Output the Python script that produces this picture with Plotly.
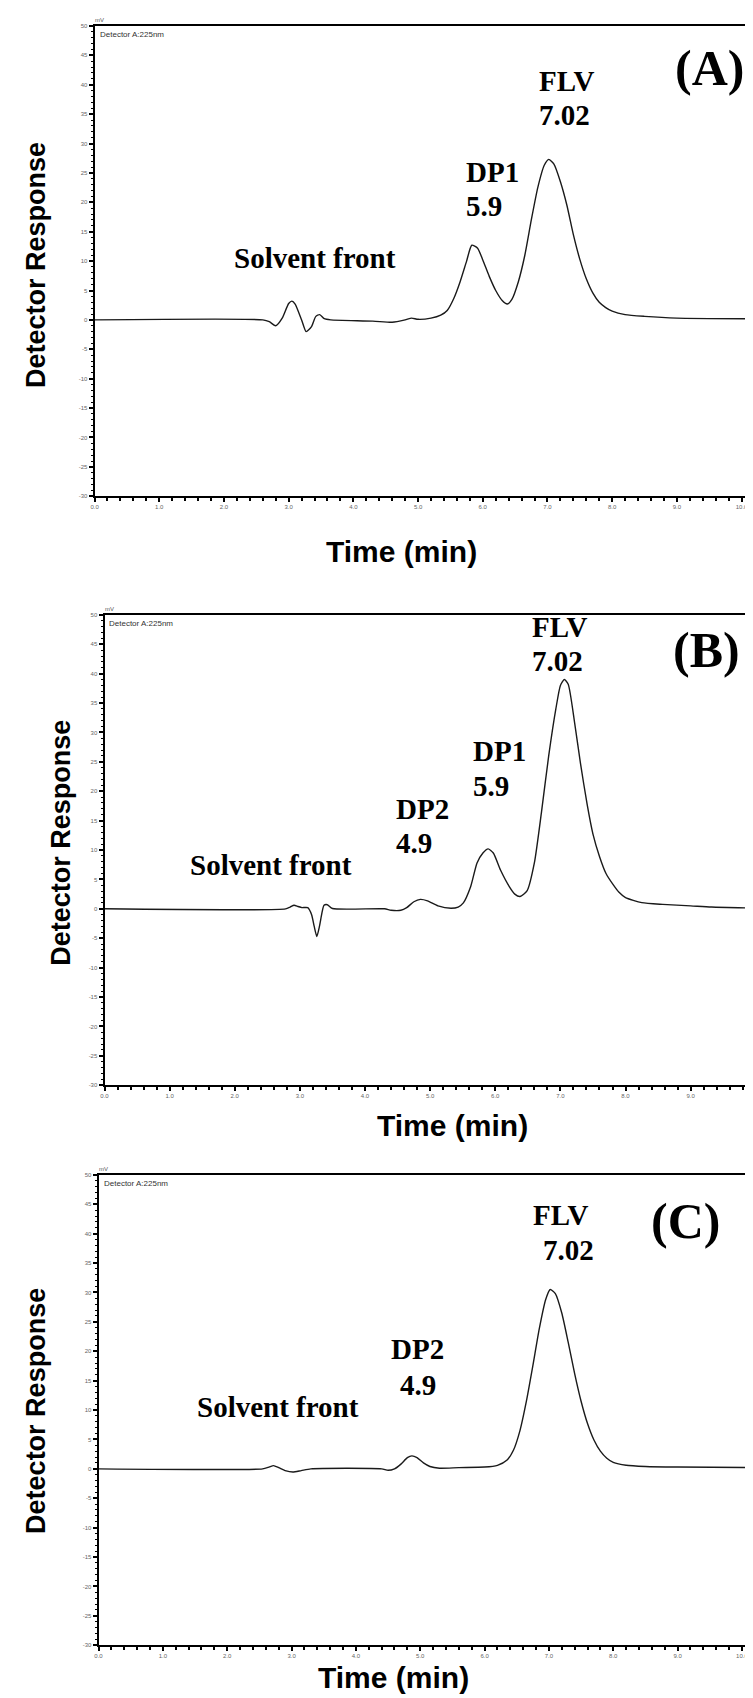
import plotly.graph_objects as go

W, H = 753, 1698

# ---------------- data ----------------
time_a = [0.0, 2.6, 2.7, 2.8, 2.9, 3.0, 3.05, 3.1, 3.2, 3.27, 3.35, 3.42, 3.48, 3.55, 3.65,
          4.3, 4.6, 4.8, 4.9, 5.0, 5.2, 5.35, 5.45, 5.55, 5.65, 5.75, 5.83, 5.92, 6.0, 6.1,
          6.2, 6.3, 6.38, 6.45, 6.55, 6.65, 6.75, 6.85, 6.95, 7.02, 7.1, 7.2, 7.3, 7.4, 7.5,
          7.6, 7.7, 7.8, 7.9, 8.0, 8.2, 8.5, 9.0, 10.3]
resp_a = [0.0, 0.0, -0.3, -1.0, 0.3, 2.8, 3.2, 2.7, 0.0, -2.0, -1.2, 0.6, 0.9, 0.2, 0.0,
          -0.2, -0.4, 0.0, 0.3, 0.1, 0.3, 0.8, 1.6, 3.6, 6.5, 10.0, 12.7, 12.2, 10.2, 7.4,
          5.0, 3.3, 2.7, 3.5, 6.5, 11.0, 17.0, 22.5, 26.3, 27.3, 26.5, 23.5, 19.5, 14.5, 10.3,
          7.0, 4.6, 3.0, 2.1, 1.5, 0.9, 0.6, 0.3, 0.2]

time_b = [0.0, 2.78, 2.85, 2.91, 2.97, 3.03, 3.12, 3.18, 3.22, 3.26, 3.30, 3.34, 3.37, 3.42, 3.50,
          4.3, 4.4, 4.55, 4.64, 4.75, 4.85, 4.96, 5.12, 5.32, 5.43, 5.51, 5.62, 5.72, 5.81, 5.89,
          5.97, 6.08, 6.22, 6.30, 6.38, 6.49, 6.60, 6.71, 6.82, 6.93, 7.0, 7.06, 7.12, 7.22, 7.31,
          7.41, 7.50, 7.60, 7.70, 7.81, 7.90, 8.00, 8.25, 8.57, 9.0, 9.32, 10.1]
resp_b = [0.0, 0.0, 0.3, 0.6, 0.4, 0.2, 0.2, -1.0, -3.0, -4.7, -3.0, -0.6, 0.6, 0.7, 0.05,
          0.0, -0.25, -0.25, 0.2, 1.2, 1.6, 1.35, 0.5, 0.1, 0.3, 1.0, 3.7, 7.8, 9.5, 10.2,
          9.5, 6.6, 3.7, 2.5, 2.1, 3.1, 7.8, 16.5, 26.0, 34.0, 38.0, 39.0, 38.2, 31.5, 24.6,
          17.8, 12.7, 8.9, 6.0, 4.1, 2.8, 1.9, 1.05, 0.75, 0.5, 0.3, 0.1]

time_c = [0.0, 2.55, 2.65, 2.72, 2.8, 2.9, 3.02, 3.15, 3.3, 4.4, 4.5, 4.6, 4.7, 4.8, 4.87,
          4.95, 5.05, 5.15, 5.3, 5.6, 6.0, 6.2, 6.35, 6.45, 6.55, 6.65, 6.75, 6.85, 6.95, 7.02,
          7.1, 7.2, 7.3, 7.4, 7.5, 7.6, 7.7, 7.8, 7.9, 8.0, 8.2, 8.5, 9.0, 10.3]
resp_c = [0.0, 0.0, 0.3, 0.55, 0.2, -0.3, -0.55, -0.3, 0.0, 0.0, -0.25, 0.0, 0.8, 1.9, 2.2,
          1.9, 1.0, 0.4, 0.1, 0.2, 0.3, 0.6, 1.5, 3.2, 6.5, 11.5, 17.5, 23.8, 28.8, 30.5,
          29.8, 26.5, 21.5, 16.2, 11.5, 7.7, 4.9, 3.0, 1.8, 1.1, 0.6, 0.4, 0.3, 0.2]

x_tick_vals = [0, 1, 2, 3, 4, 5, 6, 7, 8, 9, 10]
x_tick_text = ["0.0", "1.0", "2.0", "3.0", "4.0", "5.0", "6.0", "7.0", "8.0", "9.0", "10.0"]
y_tick_vals = [-30, -25, -20, -15, -10, -5, 0, 5, 10, 15, 20, 25, 30, 35, 40, 45, 50]
y_tick_text = ["-30", "-25", "-20", "-15", "-10", "-5", "0", "5", "10", "15", "20", "25",
               "30", "35", "40", "45", "50"]

panel_letters = ["(A)", "(B)", "(C)"]
detector_note = "Detector A:225nm"

# ---------------- layout geometry (pixels) ----------------
panels = [
    dict(left=83, right=753, top=15, bottom=487, xmax=10.3, right_border=False,
         t=time_a, r=resp_a, title_y=542, title_x=392, ylab_x=24, ylab_dy=4, min_x=749),
    dict(left=93, right=753, top=606, bottom=1078, xmax=10.08, right_border=False,
         t=time_b, r=resp_b, title_y=1118, title_x=443, ylab_x=49, ylab_dy=-7, min_x=None),
    dict(left=87, right=750, top=1168, bottom=1640, xmax=10.25, right_border=True,
         t=time_c, r=resp_c, title_y=1672, title_x=384, ylab_x=24, ylab_dy=1, min_x=749),
]

fig = go.Figure()
layout = dict(width=W, height=H, margin=dict(l=0, r=0, t=0, b=0),
              paper_bgcolor="white", plot_bgcolor="white", showlegend=False)
annotations = []

serif = "Liberation Serif, Times New Roman, serif"
sans = "Liberation Sans, Arial, sans-serif"

for i, p in enumerate(panels):
    n = "" if i == 0 else str(i + 1)
    xa, ya = "xaxis" + n, "yaxis" + n
    xr, yr = "x" + n, "y" + n
    fig.add_trace(go.Scatter(x=p["t"], y=p["r"], mode="lines", xaxis=xr, yaxis=yr,
                             line=dict(color="#1a1a1a", width=1.4, shape="spline", smoothing=0.6),
                             hoverinfo="skip"))
    layout[xa] = dict(domain=[p["left"] / W, p["right"] / W], range=[0, p["xmax"]],
                      anchor=yr, showline=True, linewidth=2, linecolor="black", mirror=True,
                      showgrid=False, zeroline=False, ticks="outside", ticklen=4, tickwidth=1.5,
                      tickcolor="black", tickvals=x_tick_vals, ticktext=x_tick_text,
                      tickfont=dict(size=6, color="#666", family=sans),
                      minor=dict(dtick=0.2, ticks="outside", ticklen=2.5, tickwidth=1.5, tickcolor="black"))
    layout[ya] = dict(domain=[1 - p["bottom"] / H, 1 - p["top"] / H], range=[-30, 50],
                      anchor=xr, showline=True, linewidth=2, linecolor="black",
                      mirror=p["right_border"], showgrid=False, zeroline=False,
                      ticks="outside", ticklen=4, tickwidth=1.5, tickcolor="black",
                      tickvals=y_tick_vals, ticktext=y_tick_text,
                      tickfont=dict(size=6, color="#666", family=sans),
                      minor=dict(dtick=1, ticks="outside", ticklen=2, tickwidth=1.2, tickcolor="black"))
    # axis titles
    annotations.append(dict(text="<b>Time (min)</b>", xref="paper", yref="paper",
                            x=p["title_x"] / W, y=1 - p["title_y"] / H, showarrow=False,
                            xanchor="center", yanchor="middle",
                            font=dict(size=30, family=sans, color="black")))
    mid = (p["top"] + p["bottom"]) / 2 + p["ylab_dy"]
    annotations.append(dict(text="<b>Detector Response</b>", xref="paper", yref="paper",
                            x=p["ylab_x"] / W, y=1 - mid / H, showarrow=False, textangle=-90,
                            xanchor="center", yanchor="middle",
                            font=dict(size=27, family=sans, color="black")))
    annotations.append(dict(text=detector_note, xref="paper", yref="paper",
                            x=(p["left"] + 3) / W, y=1 - (p["top"] + 2) / H, showarrow=False,
                            xanchor="left", yanchor="top", font=dict(size=8, family=sans, color="#333")))
    annotations.append(dict(text="mV", xref="paper", yref="paper",
                            x=(p["left"] - 2) / W, y=1 - (p["top"] - 1) / H, showarrow=False,
                            xanchor="left", yanchor="bottom", font=dict(size=6, family=sans, color="#555")))
    if p["min_x"] is not None:
        annotations.append(dict(text="min", xref="paper", yref="paper", x=p["min_x"] / W,
                                y=1 - (p["bottom"] + 9) / H, showarrow=False,
                                xanchor="right", yanchor="middle", borderpad=0,
                                font=dict(size=5, family=sans, color="#666")))


def lab(text, x, y, panel, size=29, anchor="left"):
    n = "" if panel == 0 else str(panel + 1)
    annotations.append(dict(text="<b>%s</b>" % text, xref="x" + n, yref="y" + n, x=x, y=y,
                            showarrow=False, xanchor=anchor, yanchor="middle", borderpad=0,
                            font=dict(size=size, family=serif, color="black")))


# Panel A
lab("Solvent front", 3.40, 10.6, 0, anchor="center")
lab("DP1", 5.72, 25.2, 0)
lab("5.9", 5.72, 19.4, 0)
lab("FLV", 6.85, 40.7, 0)
lab("7.02", 6.85, 34.8, 0)
lab(panel_letters[0], 9.5, 42.8, 0, size=50, anchor="center")
# Panel B
lab("Solvent front", 2.55, 7.4, 1, anchor="center")
lab("DP2", 4.46, 17.0, 1)
lab("4.9", 4.46, 11.2, 1)
lab("DP1", 5.64, 26.8, 1)
lab("5.9", 5.64, 20.9, 1)
lab("FLV", 6.55, 48.0, 1)
lab("7.02", 6.55, 42.2, 1)
lab(panel_letters[1], 9.25, 44.0, 1, size=50, anchor="center")
# Panel C
lab("Solvent front", 2.79, 10.5, 2, anchor="center")
lab("DP2", 4.96, 20.4, 2, anchor="center")
lab("4.9", 4.96, 14.3, 2, anchor="center")
lab("FLV", 7.18, 43.2, 2, anchor="center")
lab("7.02", 7.3, 37.3, 2, anchor="center")
lab(panel_letters[2], 9.12, 42.2, 2, size=50, anchor="center")

layout["annotations"] = annotations
fig.update_layout(**layout)
fig.write_html("out.html")
